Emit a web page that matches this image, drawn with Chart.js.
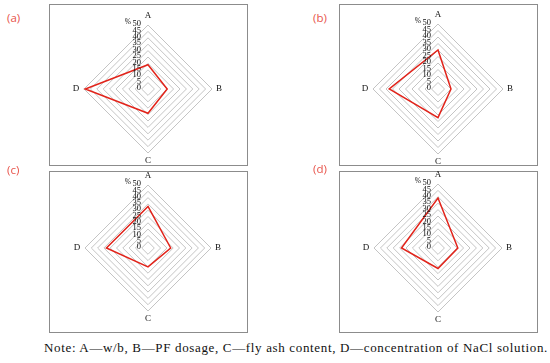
<!DOCTYPE html>
<html>
<head>
<meta charset="utf-8">
<script src="https://cdn.jsdelivr.net/npm/chart.js@4.4.1/dist/chart.umd.min.js"></script>
<style>
  html, body { margin: 0; padding: 0; background: #fff; }
  body { width: 550px; height: 363px; position: relative; overflow: hidden; }
  .box { position: absolute; border: 1px solid #8c8c8c; box-sizing: border-box; }
  .panel { position: absolute; }
  .tag { position: absolute; font: 11.5px "Open Sans", "Noto Sans", sans-serif; color: #e8534a; line-height: 1; }
  #note { position: absolute; left: 44px; top: 340px; font: 13px "Liberation Serif", serif; color: #111; white-space: nowrap; }
</style>
</head>
<body>
<div id="note">Note: A—w/b, B—PF dosage, C—fly ash content, D—concentration of NaCl solution.</div>
<script>
  const categories = ['A', 'B', 'C', 'D'];
  const seriesA = [19, 15, 19, 49];
  const seriesB = [30, 10, 22, 37.5];
  const seriesC = [33, 18, 15, 33];
  const seriesD = [39, 15.5, 16, 28.5];
  const tickValues = [0, 5, 10, 15, 20, 25, 30, 35, 40, 45, 50];
  const tags = ['(a)', '(b)', '(c)', '(d)'];

  // box position on page, chart centre inside the box, radius
  const panels = [
    { data: seriesA, left: 49, top: 4, cx: 99, cy: 85, r: 64, tagX: 7, tagY: 12 },
    { data: seriesB, left: 339, top: 4, cx: 99, cy: 85, r: 65, tagX: 313, tagY: 12 },
    { data: seriesC, left: 49, top: 171, cx: 99, cy: 77, r: 63, tagX: 7, tagY: 164 },
    { data: seriesD, left: 339, top: 171, cx: 99, cy: 77, r: 64, tagX: 313, tagY: 163 }
  ];
  const W = 199, H = 162;

  const labelPlugin = {
    id: 'radarText',
    afterDraw(chart) {
      const s = chart.scales.r;
      const ctx = chart.ctx;
      ctx.save();
      ctx.fillStyle = '#111';
      ctx.textBaseline = 'middle';

      // axis letters
      const offs = [9, 7, 8, 8];
      ctx.font = '9px "Liberation Serif", serif';
      ctx.textAlign = 'center';
      categories.forEach((c, i) => {
        const p = s.getPointPosition(i, s.drawingArea + offs[i]);
        ctx.fillText(c, p.x, p.y);
      });

      // tick values up the A axis, left of it
      ctx.font = '8.5px "Liberation Serif", serif';
      ctx.textAlign = 'right';
      tickValues.forEach(v => {
        const d = s.getDistanceFromCenterForValue(v);
        ctx.fillText(String(v), s.xCenter - 7, s.yCenter - d - 1);
      });
      const dTop = s.getDistanceFromCenterForValue(50);
      ctx.font = '7.5px "Liberation Serif", serif';
      ctx.fillText('%', s.xCenter - 17, s.yCenter - dTop - 3);
      ctx.restore();
    }
  };

  panels.forEach((p, k) => {
    const box = document.createElement('div');
    box.className = 'box';
    Object.assign(box.style, { left: p.left + 'px', top: p.top + 'px', width: W + 'px', height: H + 'px' });
    document.body.appendChild(box);

    const tag = document.createElement('div');
    tag.className = 'tag';
    tag.textContent = tags[k];
    Object.assign(tag.style, { left: p.tagX + 'px', top: p.tagY + 'px' });
    document.body.appendChild(tag);

    const wrap = document.createElement('div');
    wrap.className = 'panel';
    Object.assign(wrap.style, { left: p.left + 'px', top: p.top + 'px', width: W + 'px', height: H + 'px' });
    const cv = document.createElement('canvas');
    wrap.appendChild(cv);
    document.body.appendChild(wrap);

    new Chart(cv, {
      type: 'radar',
      data: {
        labels: categories,
        datasets: [{
          data: p.data,
          borderColor: '#e2231a',
          borderWidth: 1.5,
          fill: false,
          pointRadius: 0,
          pointHoverRadius: 0
        }]
      },
      options: {
        responsive: true,
        maintainAspectRatio: false,
        animation: false,
        events: [],
        layout: {
          padding: {
            left: p.cx - p.r,
            right: W - p.cx - p.r,
            top: p.cy - p.r,
            bottom: H - p.cy - p.r
          }
        },
        plugins: { legend: { display: false }, tooltip: { enabled: false } },
        scales: {
          r: {
            min: 0,
            max: 50,
            ticks: { stepSize: 5, display: false },
            pointLabels: { display: false },
            angleLines: { display: false },
            grid: { color: '#c4c4c4', lineWidth: 1 }
          }
        }
      },
      plugins: [labelPlugin]
    });
  });

  // stretch the note to its measured width in the reference
  const note = document.getElementById('note');
  const target = 504;
  const w = note.getBoundingClientRect().width;
  const n = note.textContent.length;
  note.style.letterSpacing = ((target - w) / n).toFixed(3) + 'px';
</script>
</body>
</html>
